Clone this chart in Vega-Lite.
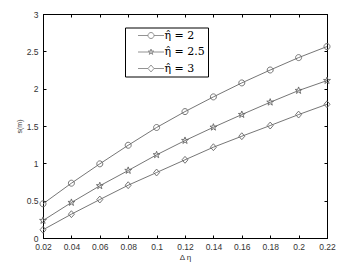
{
  "$schema": "https://vega.github.io/schema/vega-lite/v6.json",
  "autosize": {"type": "none"},
  "width": 284,
  "height": 224,
  "padding": {"left": 43, "top": 14, "right": 26, "bottom": 24},
  "background": "white",
  "config": {
    "view": {"stroke": "black", "strokeWidth": 1},
    "axis": {
      "grid": false,
      "domainColor": "black",
      "tickColor": "black",
      "tickSize": -3,
      "labelFlush": false,
      "labelOverlap": false,
      "labelColor": "#333",
      "labelFont": "Liberation Sans",
      "labelFontSize": 8.5,
      "titleFont": "Liberation Sans",
      "titleFontWeight": "normal",
      "titleColor": "#333"
    }
  },
  "data": {
    "values": [
      {"x": 0.02, "y": 0.458, "series": "η̂ = 2"},
      {"x": 0.04, "y": 0.734, "series": "η̂ = 2"},
      {"x": 0.06, "y": 0.993, "series": "η̂ = 2"},
      {"x": 0.08, "y": 1.242, "series": "η̂ = 2"},
      {"x": 0.10, "y": 1.48, "series": "η̂ = 2"},
      {"x": 0.12, "y": 1.693, "series": "η̂ = 2"},
      {"x": 0.14, "y": 1.89, "series": "η̂ = 2"},
      {"x": 0.16, "y": 2.077, "series": "η̂ = 2"},
      {"x": 0.18, "y": 2.25, "series": "η̂ = 2"},
      {"x": 0.20, "y": 2.416, "series": "η̂ = 2"},
      {"x": 0.22, "y": 2.564, "series": "η̂ = 2"},
      {"x": 0.02, "y": 0.234, "series": "η̂ = 2.5"},
      {"x": 0.04, "y": 0.475, "series": "η̂ = 2.5"},
      {"x": 0.06, "y": 0.699, "series": "η̂ = 2.5"},
      {"x": 0.08, "y": 0.904, "series": "η̂ = 2.5"},
      {"x": 0.10, "y": 1.114, "series": "η̂ = 2.5"},
      {"x": 0.12, "y": 1.305, "series": "η̂ = 2.5"},
      {"x": 0.14, "y": 1.483, "series": "η̂ = 2.5"},
      {"x": 0.16, "y": 1.653, "series": "η̂ = 2.5"},
      {"x": 0.18, "y": 1.818, "series": "η̂ = 2.5"},
      {"x": 0.20, "y": 1.975, "series": "η̂ = 2.5"},
      {"x": 0.22, "y": 2.108, "series": "η̂ = 2.5"},
      {"x": 0.02, "y": 0.11, "series": "η̂ = 3"},
      {"x": 0.04, "y": 0.319, "series": "η̂ = 3"},
      {"x": 0.06, "y": 0.515, "series": "η̂ = 3"},
      {"x": 0.08, "y": 0.707, "series": "η̂ = 3"},
      {"x": 0.10, "y": 0.877, "series": "η̂ = 3"},
      {"x": 0.12, "y": 1.047, "series": "η̂ = 3"},
      {"x": 0.14, "y": 1.216, "series": "η̂ = 3"},
      {"x": 0.16, "y": 1.363, "series": "η̂ = 3"},
      {"x": 0.18, "y": 1.506, "series": "η̂ = 3"},
      {"x": 0.20, "y": 1.653, "series": "η̂ = 3"},
      {"x": 0.22, "y": 1.791, "series": "η̂ = 3"}
    ]
  },
  "resolve": {
    "scale": {"shape": "independent"},
    "axis": {"x": "independent", "y": "independent"}
  },
  "layer": [
    {
      "mark": {"type": "line", "color": "#666", "strokeWidth": 0.9},
      "encoding": {
        "x": {
          "field": "x", "type": "quantitative",
          "scale": {"domain": [0.02, 0.22], "nice": false, "zero": false},
          "axis": {
            "orient": "bottom",
            "values": [0.02, 0.04, 0.06, 0.08, 0.1, 0.12, 0.14, 0.16, 0.18, 0.2, 0.22],
            "format": ".2~f",
            "labelPadding": 7.5,
            "title": "Δ η",
            "titleFontSize": 8,
            "titleBaseline": "middle",
            "titleY": 19.5
          }
        },
        "y": {
          "field": "y", "type": "quantitative",
          "scale": {"domain": [0, 3], "nice": false, "zero": false},
          "axis": {
            "orient": "left",
            "values": [0, 0.5, 1, 1.5, 2, 2.5, 3],
            "format": "~g",
            "labelPadding": 8,
            "title": "s(m)",
            "titleFontSize": 7,
            "titleX": -24,
            "titleY": 112,
            "titleBaseline": "middle",
            "titleAlign": "center"
          }
        },
        "detail": {"field": "series"}
      }
    },
    {
      "mark": {"type": "point", "filled": false, "color": "#666", "strokeWidth": 0.9, "size": 36, "opacity": 1},
      "encoding": {
        "x": {
          "field": "x", "type": "quantitative",
          "scale": {"domain": [0.02, 0.22], "nice": false, "zero": false},
          "axis": {
            "orient": "top",
            "values": [0.02, 0.04, 0.06, 0.08, 0.1, 0.12, 0.14, 0.16, 0.18, 0.2, 0.22],
            "labels": false, "title": null
          }
        },
        "y": {
          "field": "y", "type": "quantitative",
          "scale": {"domain": [0, 3], "nice": false, "zero": false},
          "axis": {
            "orient": "right",
            "values": [0, 0.5, 1, 1.5, 2, 2.5, 3],
            "labels": false, "title": null
          }
        },
        "shape": {
          "field": "series", "type": "nominal",
          "scale": {
            "domain": ["η̂ = 2", "η̂ = 2.5", "η̂ = 3"],
            "range": [
              "M1,0A1,1 0 1,1 -1,0A1,1 0 1,1 1,0Z",
              "M0,-1.2L0.282,-0.389L1.141,-0.371L0.456,0.149L0.706,0.971L0,0.48L-0.706,0.971L-0.456,0.149L-1.141,-0.371L-0.282,-0.389Z",
              "M0,-1.15L1,0L0,1.15L-1,0Z"
            ]
          },
          "legend": null
        }
      }
    },
    {
      "transform": [{"filter": "datum.x < 0"}],
      "mark": {"type": "point", "filled": false, "color": "#555", "strokeWidth": 0.9},
      "encoding": {
        "x": {"field": "x", "type": "quantitative", "scale": {"domain": [0.02, 0.22], "nice": false, "zero": false}, "axis": null},
        "y": {"field": "y", "type": "quantitative", "scale": {"domain": [0, 3], "nice": false, "zero": false}, "axis": null},
        "shape": {
          "field": "series", "type": "nominal",
          "scale": {
            "domain": ["η̂ = 2", "η̂ = 2.5", "η̂ = 3"],
            "range": [
              "M-4.33,0L-1,0M1,0L4.33,0M1,0A1,1 0 1,1 -1,0A1,1 0 1,1 1,0Z",
              "M-4.33,0L4.33,0M0,-1L0.235,-0.324L0.951,-0.309L0.38,0.124L0.588,0.809L0,0.4L-0.588,0.809L-0.38,0.124L-0.951,-0.309L-0.235,-0.324Z",
              "M-4.33,0L-1,0M1,0L4.33,0M0,-1.15L1,0L0,1.15L-1,0Z"
            ]
          },
          "legend": {
            "title": null,
            "orient": "none",
            "legendX": 82,
            "legendY": 13.5,
            "strokeColor": "black",
            "fillColor": "white",
            "padding": 2.5,
            "cornerRadius": 0,
            "labelFont": "DejaVu Serif",
            "labelFontSize": 11,
            "labelColor": "black",
            "symbolSize": 36,
            "symbolOffset": 18,
            "labelOffset": 8,
            "rowPadding": 4.5,
            "symbolStrokeColor": "#555",
            "symbolStrokeWidth": 0.9,
            "symbolFillColor": "transparent"
          }
        }
      }
    }
  ]
}
